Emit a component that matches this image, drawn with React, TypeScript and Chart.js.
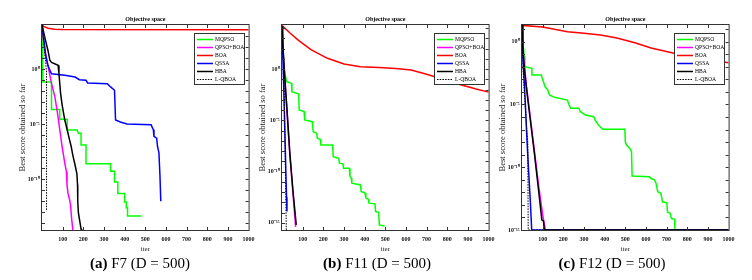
import React, { useEffect, useRef } from 'react';
import { Chart, registerables } from 'chart.js';

Chart.register(...registerables);

// ---------------- data (x = iteration, exp = log10 of best score) ----------------
const SERIES_NAMES = ['MQPSO', 'QPSO+BOA', 'BOA', 'QSSA', 'HBA', 'L-QBOA'];
const SERIES_COLORS = ['#00ff00', '#ff00ff', '#ff0000', '#0000ff', '#000000', '#000000'];
const X_TICKS = [0, 100, 200, 300, 400, 500, 600, 700, 800, 900, 1000];

// (a) F7
const F7_Y_EXP_RANGE = [-14.6, 4.0];
const F7_MQPSO_ITER = [0, 2, 4, 5, 46, 46, 86, 86, 122, 122, 170, 176, 189, 189, 213, 213, 332, 332, 351, 351, 367, 367, 400, 400, 408, 408, 414, 414, 483];
const F7_MQPSO_EXP = [4.0, 2.0, 0.0, -1.17, -1.17, -3.66, -3.66, -4.56, -4.56, -5.53, -5.53, -5.83, -5.83, -6.88, -6.88, -8.59, -8.59, -9.28, -9.28, -10.24, -10.24, -11.29, -11.29, -12.07, -12.07, -12.58, -12.58, -13.33, -13.33];
const F7_QPSOBOA_ITER = [0, 5, 12, 20, 30, 46, 62, 75, 86, 97, 110, 118, 121, 126, 133, 138, 143, 150, 152];
const F7_QPSOBOA_EXP = [4.0, 3.0, 1.8, 1.0, 0.2, -1.3, -2.5, -4.0, -5.5, -7.0, -8.5, -9.3, -10.5, -11.3, -11.8, -12.3, -13.5, -14.7, -15.2];
const F7_BOA_ITER = [0, 10, 30, 60, 100, 1000];
const F7_BOA_EXP = [4.0, 3.85, 3.7, 3.62, 3.6, 3.57];
const F7_QSSA_ITER = [0, 8, 18, 28, 38, 46, 110, 160, 181, 213, 221, 316, 332, 351, 356, 379, 411, 528, 539, 542, 555, 559, 566, 571, 575];
const F7_QSSA_EXP = [4.0, 2.8, 1.3, 0.4, -0.1, -0.42, -0.55, -0.72, -0.96, -1.02, -1.26, -1.32, -1.62, -1.92, -4.62, -4.8, -4.98, -5.06, -5.5, -6.1, -6.27, -7.0, -7.6, -9.7, -12.0];
const F7_HBA_ITER = [0, 17, 30, 38, 46, 78, 82, 90, 97, 110, 122, 133, 141, 149, 160, 169, 172, 173, 176, 181, 189, 192];
const F7_HBA_EXP = [4.0, 2.6, 1.6, 0.8, 0.6, 0.35, -0.4, -2.2, -3.2, -4.6, -5.5, -6.4, -7.0, -7.8, -8.7, -9.5, -10.5, -12.0, -13.0, -13.6, -14.5, -15.0];
const F7_LQBOA_ITER = [0, 8, 16, 22, 22];
const F7_LQBOA_EXP = [4.0, 2.5, 1.0, -0.3, -12.9];

// (b) F11
const F11_Y_EXP_RANGE = [-15.7, 4.3];
const F11_MQPSO_ITER = [0, 4, 8, 14, 22, 46, 48, 81, 83, 107, 110, 147, 151, 168, 171, 185, 188, 245, 248, 274, 278, 295, 298, 326, 329, 335, 338, 380, 383, 402, 406, 418, 421, 450, 453, 468, 471, 497];
const F11_MQPSO_EXP = [4.12, 2.5, 1.0, -0.42, -1.23, -1.39, -2.2, -2.43, -3.99, -4.15, -4.97, -5.13, -6.1, -6.26, -6.75, -6.85, -7.4, -7.4, -8.54, -8.7, -9.18, -9.25, -9.67, -9.67, -10.48, -10.6, -11.13, -11.3, -11.95, -12.1, -12.59, -12.7, -13.08, -13.15, -13.9, -14.0, -15.2, -15.3];
const F11_QPSOBOA_ITER = [0, 5, 11, 22, 38, 54, 66];
const F11_QPSOBOA_EXP = [4.2, 2.0, -0.2, -3.5, -8.4, -12.3, -15.4];
const F11_BOA_ITER = [0, 40, 80, 140, 220, 300, 380, 470, 550, 625, 700, 780, 860, 940, 1000];
const F11_BOA_EXP = [4.25, 3.5, 2.8, 1.9, 1.05, 0.5, 0.23, 0.15, 0.05, -0.1, -0.5, -1.0, -1.5, -1.95, -2.25];
const F11_QSSA_ITER = [0, 3, 8, 13, 18, 22, 24];
const F11_QSSA_EXP = [4.2, 2.0, -1.5, -5.5, -9.5, -12.5, -13.9];
const F11_HBA_ITER = [0, 5, 11, 22, 38, 54, 69];
const F11_HBA_EXP = [4.2, 2.0, -0.1, -3.3, -8.2, -12.1, -15.2];
const F11_LQBOA_ITER = [0, 8, 14, 18, 21];
const F11_LQBOA_EXP = [4.2, 0.5, -6.0, -12.0, -15.8];

// (c) F12
const F12_Y_EXP_RANGE = [-15.0, 1.33];
const F12_MQPSO_ITER = [0, 6, 11, 14, 48, 48, 93, 101, 112, 125, 133, 157, 220, 228, 236, 275, 283, 307, 347, 354, 370, 391, 498, 500, 506, 522, 530, 533, 617, 625, 641, 649, 657, 672, 680, 701, 704, 717, 723, 739, 740, 1000];
const F12_MQPSO_EXP = [1.2, -0.3, -1.14, -1.99, -2.12, -2.65, -2.65, -3.05, -3.59, -3.85, -4.25, -4.43, -4.65, -5.04, -5.3, -5.3, -5.58, -5.84, -5.98, -6.24, -6.64, -6.98, -6.98, -7.97, -8.23, -8.5, -8.76, -10.7, -10.76, -10.9, -11.0, -11.3, -11.95, -12.08, -12.75, -12.83, -13.55, -13.67, -14.07, -14.15, -15.0, -15.0];
const F12_QPSOBOA_ITER = [0, 4, 8, 20, 40, 60, 80, 100, 110, 113, 1000];
const F12_QPSOBOA_EXP = [1.33, -0.4, -1.3, -3.3, -6.0, -8.7, -11.4, -13.8, -14.7, -15.0, -15.0];
const F12_BOA_ITER = [0, 100, 220, 300, 380, 460, 505, 546, 625, 736, 862, 1000];
const F12_BOA_EXP = [1.3, 1.17, 0.8, 0.68, 0.53, 0.3, 0.1, -0.08, -0.5, -0.92, -1.32, -1.67];
const F12_QSSA_ITER = [0, 5, 15, 24, 32, 40, 47, 1000];
const F12_QSSA_EXP = [1.33, -1.5, -4.5, -7.8, -10.3, -12.6, -15.0, -15.0];
const F12_HBA_ITER = [0, 4, 8, 20, 40, 60, 80, 96, 104, 108, 1000];
const F12_HBA_EXP = [1.33, -0.5, -1.5, -3.5, -6.2, -8.9, -11.8, -14.2, -14.3, -15.0, -15.0];
const F12_LQBOA_ITER = [0, 6, 22, 28, 30, 1000];
const F12_LQBOA_EXP = [1.33, -2.5, -6.8, -8.0, -15.0, -15.0];

const PANEL_TITLE = 'Objective space';
const Y_TITLE = 'Best score obtained so far';
const X_TITLE = 'iter';

// ---------------- layout / style ----------------
const FONT = '"Liberation Serif", "Times New Roman", serif';
const CANVAS_W = 260;
const CANVAS_H = 256;
const PLOT_LEFT = 42;
const PLOT_TOP = 25;
const PLOT_BOTTOM = 230;
const PAD_RIGHT = 8;
const TICK_LEN = 3;
const FRAME_COLOR = '#333333';

type Series = [number[], number[]];
type PanelDef = {
  left: number;
  range: number[];
  series: Series[];
  capBold: string;
  capRest: string;
  capCenter: number;
};

const PANELS: PanelDef[] = [
  {
    left: 0,
    range: F7_Y_EXP_RANGE,
    series: [
      [F7_MQPSO_ITER, F7_MQPSO_EXP],
      [F7_QPSOBOA_ITER, F7_QPSOBOA_EXP],
      [F7_BOA_ITER, F7_BOA_EXP],
      [F7_QSSA_ITER, F7_QSSA_EXP],
      [F7_HBA_ITER, F7_HBA_EXP],
      [F7_LQBOA_ITER, F7_LQBOA_EXP],
    ],
    capBold: '(a)',
    capRest: ' F7 (D = 500)',
    capCenter: 140,
  },
  {
    left: 240,
    range: F11_Y_EXP_RANGE,
    series: [
      [F11_MQPSO_ITER, F11_MQPSO_EXP],
      [F11_QPSOBOA_ITER, F11_QPSOBOA_EXP],
      [F11_BOA_ITER, F11_BOA_EXP],
      [F11_QSSA_ITER, F11_QSSA_EXP],
      [F11_HBA_ITER, F11_HBA_EXP],
      [F11_LQBOA_ITER, F11_LQBOA_EXP],
    ],
    capBold: '(b)',
    capRest: ' F11 (D = 500)',
    capCenter: 377,
  },
  {
    left: 480,
    range: F12_Y_EXP_RANGE,
    series: [
      [F12_MQPSO_ITER, F12_MQPSO_EXP],
      [F12_QPSOBOA_ITER, F12_QPSOBOA_EXP],
      [F12_BOA_ITER, F12_BOA_EXP],
      [F12_QSSA_ITER, F12_QSSA_EXP],
      [F12_HBA_ITER, F12_HBA_EXP],
      [F12_LQBOA_ITER, F12_LQBOA_EXP],
    ],
    capBold: '(c)',
    capRest: ' F12 (D = 500)',
    capCenter: 612,
  },
];

const SUP: Record<string, string> = {
  '-': '\u207B', '0': '\u2070', '1': '\u00B9', '2': '\u00B2', '3': '\u00B3', '4': '\u2074',
  '5': '\u2075', '6': '\u2076', '7': '\u2077', '8': '\u2078', '9': '\u2079',
};
const sup = (n: number) => String(n).split('').map((c) => SUP[c] ?? c).join('');

const decorPlugin = {
  id: 'decor',
  afterDatasetsDraw(chart: any) {
    const { ctx, chartArea: a } = chart;
    const xs = chart.scales.x;
    const ys = chart.scales.y;
    ctx.save();
    ctx.strokeStyle = FRAME_COLOR;
    ctx.lineWidth = 1;
    ctx.setLineDash([]);
    ctx.strokeRect(a.left - 0.5, a.top - 0.5, a.right - a.left + 1, a.bottom - a.top + 1);
    ctx.beginPath();
    for (const t of ys.ticks) {
      const p = Math.round(ys.getPixelForValue(t.value)) + 0.5;
      if (p < a.top + 1 || p > a.bottom - 1) continue;
      ctx.moveTo(a.left, p);
      ctx.lineTo(a.left + TICK_LEN, p);
      ctx.moveTo(a.right, p);
      ctx.lineTo(a.right - TICK_LEN, p);
    }
    for (const t of xs.ticks) {
      const p = Math.round(xs.getPixelForValue(t.value)) + 0.5;
      if (p < a.left + 1 || p > a.right - 1) continue;
      ctx.moveTo(p, a.bottom);
      ctx.lineTo(p, a.bottom - TICK_LEN);
      ctx.moveTo(p, a.top);
      ctx.lineTo(p, a.top + TICK_LEN);
    }
    ctx.stroke();

    // title
    ctx.fillStyle = '#000';
    ctx.font = `bold 6px ${FONT}`;
    ctx.textAlign = 'center';
    ctx.textBaseline = 'middle';
    ctx.fillText(PANEL_TITLE, (a.left + a.right) / 2, a.top - 6);

    // legend box
    const bw = 51;
    const bh = 52;
    const bx = Math.round(a.right - 4 - bw);
    const by = Math.round(a.top + 8);
    ctx.fillStyle = '#ffffff';
    ctx.fillRect(bx, by, bw, bh);
    ctx.strokeStyle = FRAME_COLOR;
    ctx.strokeRect(bx + 0.5, by + 0.5, bw - 1, bh - 1);
    chart.data.datasets.forEach((ds: any, i: number) => {
      const y = by + 6.5 + i * 8;
      ctx.strokeStyle = ds.borderColor;
      ctx.lineWidth = ds.borderWidth;
      ctx.setLineDash(ds.borderDash || []);
      ctx.beginPath();
      ctx.moveTo(bx + 3, y);
      ctx.lineTo(bx + 19, y);
      ctx.stroke();
      ctx.setLineDash([]);
      ctx.fillStyle = '#000';
      ctx.font = `5.6px ${FONT}`;
      ctx.textAlign = 'left';
      ctx.textBaseline = 'middle';
      ctx.fillText(ds.label, bx + 21, y);
    });
    ctx.restore();
  },
};

function Panel({ def }: { def: PanelDef }) {
  const ref = useRef<HTMLCanvasElement | null>(null);
  useEffect(() => {
    if (!ref.current) return;
    const datasets = def.series.map(([iters, exps], i) => ({
      label: SERIES_NAMES[i],
      data: iters.map((x, j) => ({ x, y: Math.pow(10, exps[j]) })),
      borderColor: SERIES_COLORS[i],
      backgroundColor: SERIES_COLORS[i],
      borderWidth: i === 5 ? 1 : 1.5,
      borderDash: i === 5 ? [1.5, 1.2] : [],
      pointRadius: 0,
      tension: 0,
      fill: false,
      order: -i,
    }));
    const chart = new Chart(ref.current, {
      type: 'line',
      data: { datasets },
      plugins: [decorPlugin],
      options: {
        animation: false,
        responsive: false,
        maintainAspectRatio: false,
        devicePixelRatio: 1,
        layout: { padding: { left: 0, top: PLOT_TOP, right: PAD_RIGHT, bottom: 0 } },
        plugins: { legend: { display: false }, tooltip: { enabled: false }, title: { display: false } },
        scales: {
          x: {
            type: 'linear',
            min: 0,
            max: 1000,
            grid: { display: false, drawTicks: false },
            border: { display: false },
            afterBuildTicks: (s: any) => {
              s.ticks = X_TICKS.map((v) => ({ value: v }));
            },
            afterFit: (s: any) => {
              s.height = CANVAS_H - PLOT_BOTTOM;
            },
            ticks: {
              autoSkip: false,
              maxRotation: 0,
              minRotation: 0,
              padding: 5.4,
              color: '#111',
              font: { family: FONT, size: 6, weight: 'bold' },
              callback: (v: any) => (Number(v) === 0 ? '' : String(v)),
            },
            title: {
              display: true,
              text: X_TITLE,
              color: '#222',
              font: { family: FONT, size: 7 },
              padding: { top: 0, bottom: 3 },
            },
          },
          y: {
            type: 'logarithmic',
            min: Math.pow(10, def.range[0]),
            max: Math.pow(10, def.range[1]),
            bounds: 'data',
            grid: { display: false, drawTicks: false },
            border: { display: false },
            afterBuildTicks: (s: any) => {
              const lo = Math.ceil(def.range[0] - 1e-9);
              const hi = Math.floor(def.range[1] + 1e-9);
              const t: { value: number }[] = [];
              for (let k = lo; k <= hi; k++) t.push({ value: Math.pow(10, k) });
              s.ticks = t;
            },
            afterFit: (s: any) => {
              s.width = PLOT_LEFT;
            },
            ticks: {
              autoSkip: false,
              padding: 2.5,
              color: '#111',
              font: { family: FONT, size: 6, weight: 'bold' },
              callback: (v: any) => {
                const k = Math.round(Math.log10(Number(v)));
                return k % 5 === 0 ? '10' + sup(k) : '';
              },
            },
            title: {
              display: true,
              text: Y_TITLE,
              color: '#222',
              font: { family: FONT, size: 8.5 },
              padding: { top: 17.8, bottom: 0 },
            },
          },
        },
      } as any,
    });
    return () => chart.destroy();
  }, [def]);

  return (
    <>
      <canvas
        ref={ref}
        width={CANVAS_W}
        height={CANVAS_H}
        style={{ position: 'absolute', left: def.left, top: 0, width: CANVAS_W, height: CANVAS_H }}
      />
      <div
        style={{
          position: 'absolute',
          left: def.capCenter,
          top: 255,
          transform: 'translateX(-50%)',
          whiteSpace: 'nowrap',
          fontFamily: FONT,
          fontSize: 15,
          lineHeight: '16px',
          color: '#000',
        }}
      >
        <b>{def.capBold}</b>
        {def.capRest}
      </div>
    </>
  );
}

export default function App() {
  return (
    <div style={{ position: 'absolute', left: 0, top: 0, width: 752, height: 280, background: '#fff', overflow: 'hidden' }}>
      {PANELS.map((p, i) => (
        <Panel key={i} def={p} />
      ))}
    </div>
  );
}
